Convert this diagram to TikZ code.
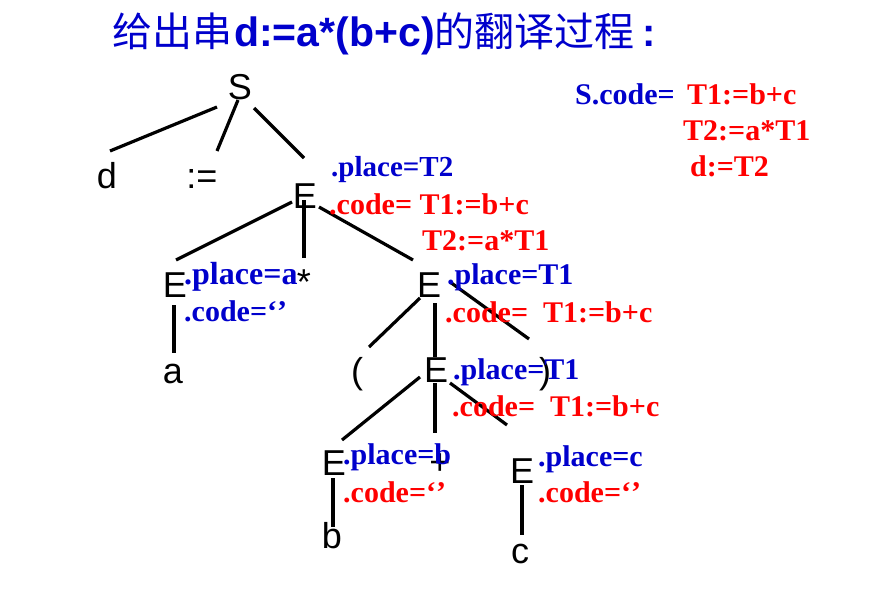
\documentclass[tikz,border=0pt]{standalone}
\usepackage{fontspec}
\setmainfont{Liberation Serif}
\newfontfamily\arial{Liberation Sans}
\newfontfamily\cjk{Noto Sans CJK SC}
\definecolor{tblue}{RGB}{0,0,204}
\definecolor{tred}{RGB}{255,0,0}
\begin{document}
\begin{tikzpicture}[x=1pt,y=-1pt,
  sym/.style={font=\arial\fontsize{36}{36}\selectfont, inner sep=0pt, anchor=base},
  attr/.style={font=\bfseries\fontsize{30}{30}\selectfont, inner sep=0pt, anchor=base west},
  pl/.style={attr, text=tblue},
  cd/.style={attr, text=tred},
  scode/.style={font=\bfseries\fontsize{30}{30}\selectfont, inner sep=0pt, anchor=base west, text=tred},
  edge/.style={line width=3.2pt}]
\useasboundingbox (0,0) rectangle (877,604);

% title
\node[anchor=base west, inner sep=0pt, text=tblue, font=\fontsize{40}{40}\selectfont] (title) at (112,47)
  {{\cjk 给出串}\hspace{2pt}{\arial\bfseries\fontsize{41}{41}\selectfont d:=a*(b+c)}{\cjk 的翻译过程}\hspace{8pt}{\arial\bfseries :}};

% tree symbols
\node[sym] (S) at (240,100) {S};
\node[sym] (d) at (107,188) {d};
\node[sym] (as) at (202,188) {:=};
\node[sym] (E) at (305,208) {E};
\node[sym] (El) at (175,297) {E};
\node[sym] (star) at (304,294) {*};
\node[sym] (E2) at (429,297) {E};
\node[sym] (a) at (173,383) {a};
\node[sym] (lp) at (357,383) {(};
\node[sym] (rp) at (545,383) {)};
\node[sym] (E3) at (436,382) {E};
\node[sym] (plus) at (440,474) {+};
\node[sym] (E4) at (334,475) {E};
\node[sym] (E5) at (522,483) {E};
\node[sym] (b) at (332,548) {b};
\node[sym] (c) at (520,563) {c};

% edges
\draw[edge] ([shift={(-23,7)}]S.base) -- ([shift={(3,-37)}]d.base);
\draw[edge] ([shift={(-2,0)}]S.base) -- ([shift={(15,-37)}]as.base);
\draw[edge] ([shift={(14,8)}]S.base) -- ([shift={(-1,-50)}]E.base);
\draw[edge] ([shift={(-13,-6)}]E.base) -- ([shift={(1,-37)}]El.base);
\draw[edge] ([shift={(-1,-8)}]E.base) -- ([shift={(0,-36)}]star.base);
\draw[edge] ([shift={(14,-1)}]E.base) -- ([shift={(-16,-37)}]E2.base);
\draw[edge] ([shift={(-1,8)}]El.base) -- ([shift={(1,-30)}]a.base);
\draw[edge] ([shift={(-9,1)}]E2.base) -- ([shift={(12,-36)}]lp.base);
\draw[edge] ([shift={(6,6)}]E2.base) -- ([shift={(-1,-25)}]E3.base);
\draw[edge] ([shift={(21,-15)}]E2.base) -- ([shift={(-16,-44)}]rp.base);
\draw[edge] ([shift={(-16,-5)}]E3.base) -- ([shift={(8,-35)}]E4.base);
\draw[edge] ([shift={(-1,1)}]E3.base) -- ([shift={(-5,-41)}]plus.base);
\draw[edge] ([shift={(14,1)}]E3.base) -- ([shift={(-15,-58)}]E5.base);
\draw[edge] ([shift={(-1,3)}]E4.base) -- ([shift={(1,-21)}]b.base);
\draw[edge] ([shift={(0,2)}]E5.base) -- ([shift={(2,-28)}]c.base);

% attributes
\node[pl, font=\bfseries\fontsize{29}{29}\selectfont] (p0) at (331,177) {.place=T2};
\node[cd] (c0) at (329,214) {.code= T1:=b+c};
\node[cd] (c0b) at (422,250) {T2:=a*T1};

\node[pl, font=\bfseries\fontsize{32}{32}\selectfont] (p1) at (184,284) {.place=a};
\node[pl] (c1) at (184,321) {.code=‘’};

\node[pl] (p2) at (447,284) {.place=T1};
\node[cd] (c2) at (445,322) {.code=\ \ T1:=b+c};

\node[pl] (p3) at (453,379) {.place=T1};
\node[cd] (c3) at (452,416) {.code=\ \ T1:=b+c};

\node[pl] (p4) at (343,464) {.place=b};
\node[cd] (c4) at (343,502) {.code=‘’};

\node[pl] (p5) at (538,466) {.place=c};
\node[cd] (c5) at (538,502) {.code=‘’};

% S.code
\node[scode, text=tblue] (sc) at (575,105) {S.code=};
\node[scode] (sc1) at (687,105) {T1:=b+c};
\node[scode] (sc2) at (683,141) {T2:=a*T1};
\node[scode] (sc3) at (690,176) {d:=T2};
\end{tikzpicture}
\end{document}
